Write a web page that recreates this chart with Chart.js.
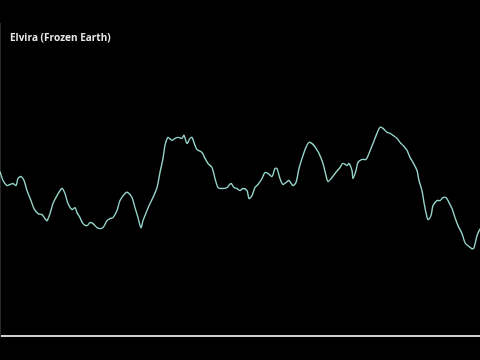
<!DOCTYPE html>
<html>
<head>
<meta charset="utf-8">
<script src="https://cdn.jsdelivr.net/npm/chart.js@4/dist/chart.umd.min.js"></script>
<style>
  html, body { margin: 0; padding: 0; background: #000; }
  #wrap { width: 480px; height: 360px; }
</style>
</head>
<body>
<div id="wrap"><canvas id="myChart" width="480" height="360"></canvas></div>
<script>
const chartTitle = 'Elvira (Frozen Earth)';

// sample positions along the track
const xs = [0, 3, 7, 10, 13, 16, 18, 21, 24, 27, 31, 34, 38, 42, 45, 47, 50, 53, 57, 62,
  65, 68, 72, 75, 77, 80, 83, 87, 90, 93, 97, 100, 103, 107, 110, 113, 117, 120, 125, 128,
  132, 135, 138, 141, 143, 147, 150, 153, 157, 160, 163, 165, 168, 172, 175, 178, 182, 184, 187, 190,
  192, 195, 197, 202, 205, 208, 212, 215, 218, 222, 227, 231, 234, 237, 240, 243, 247, 249, 252, 255,
  258, 262, 265, 268, 272, 275, 277, 280, 283, 286, 289, 293, 296, 299, 303, 306, 309, 313, 316, 319,
  323, 326, 328, 332, 335, 340, 343, 347, 349, 352, 353, 356, 358, 362, 366, 369, 373, 377, 380, 383,
  387, 390, 393, 397, 400, 403, 407, 410, 413, 417, 419, 422, 424, 426, 428, 431, 433, 437, 440, 443,
  446, 448, 452, 455, 458, 462, 465, 468, 472, 474, 477, 480];

// level values
const levels = [164, 155, 150, 151, 152, 150, 157, 159, 155, 145, 135, 127, 122, 121, 117, 115, 122, 132, 140, 147,
  142, 132, 126, 128, 123, 118, 112, 110, 113, 112, 108, 107, 108, 115, 117, 118, 125, 135, 142, 143,
  138, 128, 118, 108, 115, 125, 132, 138, 148, 163, 177, 190, 198, 195, 197, 198, 197, 200, 192, 197,
  198, 190, 186, 183, 177, 172, 168, 157, 148, 147, 148, 152, 148, 147, 145, 147, 145, 137, 140, 148,
  151, 157, 163, 162, 159, 167, 167, 157, 151, 153, 155, 150, 153, 167, 180, 188, 193, 191, 187, 182,
  172, 160, 154, 158, 162, 168, 172, 170, 172, 165, 157, 165, 173, 176, 176, 182, 192, 202, 208, 207,
  203, 202, 200, 197, 193, 190, 185, 178, 173, 165, 155, 145, 133, 123, 116, 120, 130, 135, 135, 138,
  138, 135, 127, 118, 110, 102, 93, 90, 87, 88, 100, 107];

const points = xs.map((x, i) => ({ x: x, y: levels[i] }));

const titlePlugin = {
  id: 'cornerTitle',
  afterDraw(chart) {
    const c = chart.ctx;
    c.save();
    c.fillStyle = '#e6e6e6';
    c.font = 'bold 10px "Open Sans"';
    c.textBaseline = 'alphabetic';
    c.fillText(chartTitle, 10, 41);
    c.restore();
  }
};

const ctx = document.getElementById('myChart').getContext('2d');
const myChart = new Chart(ctx, {
  type: 'line',
  data: {
    datasets: [{
      data: points,
      borderColor: '#95d3c9',
      borderWidth: 1.4,
      pointRadius: 0,
      tension: 0.3,
      fill: false
    }]
  },
  options: {
    responsive: false,
    animation: false,
    layout: { padding: { top: 23, bottom: 24, left: 0, right: 0 } },
    plugins: { legend: { display: false }, tooltip: { enabled: false } },
    scales: {
      x: {
        type: 'linear', min: 0, max: 480,
        grid: { display: false, drawTicks: false, tickLength: 0 },
        ticks: { display: false, padding: 0 },
        border: { display: true, color: '#cfcfcf', width: 2 }
      },
      y: {
        min: 0, max: 312,
        grid: { display: false, drawTicks: false, tickLength: 0 },
        ticks: { display: false, padding: 0 },
        border: { display: true, color: '#2a2a2a', width: 1 }
      }
    }
  },
  plugins: [titlePlugin]
});
</script>
</body>
</html>
